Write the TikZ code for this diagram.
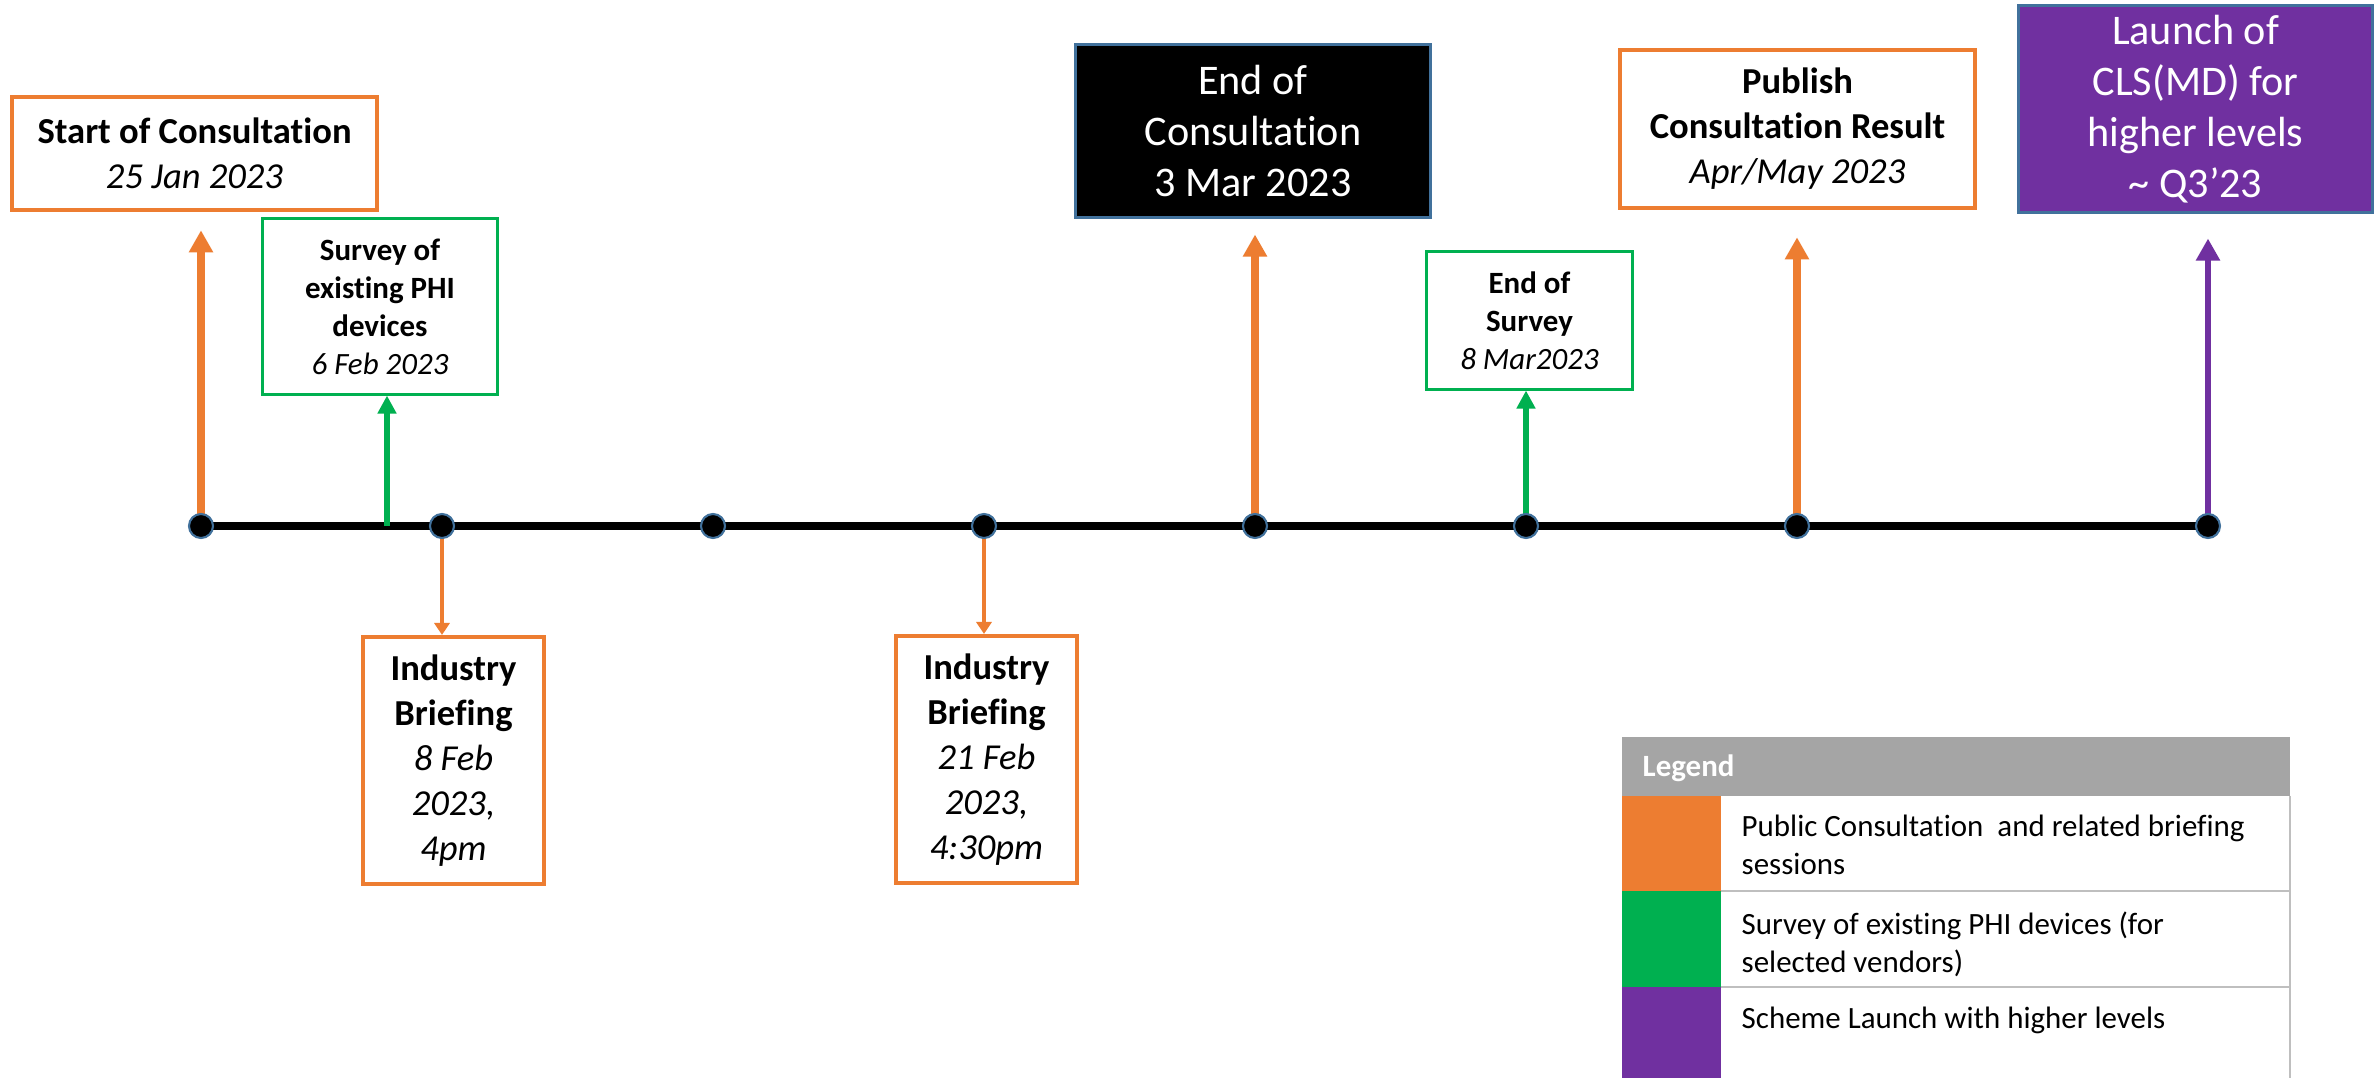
\documentclass[tikz,border=0pt]{standalone}
\usepackage{fontspec}
\setmainfont[Ligatures=NoCommon]{Carlito}
\usetikzlibrary{
	arrows.meta
}

\definecolor{pcorange}{HTML}{ED7D31}
\definecolor{pcgreen}{HTML}{00B050}
\definecolor{pcpurple}{HTML}{7030A0}
\definecolor{pcborder}{HTML}{41719C}
\definecolor{pchead}{HTML}{A5A5A5}
\definecolor{pcgrid}{HTML}{BFBFBF}

\begin{document}
\begin{tikzpicture}[
	x=0.01cm, y=-0.01cm,
	>={Triangle[length=0.22cm, width=0.23cm]},
	evbox/.style={draw, align=center, inner sep=0pt, fill=white, text=black},
	orangebox/.style={evbox, draw=pcorange, line width=1.3pt},
	greenbox/.style={evbox, draw=pcgreen, line width=0.85pt},
	darkbox/.style={evbox, draw=pcborder, line width=0.85pt, fill=black, text=white},
	launchbox/.style={evbox, draw=pcborder, line width=0.85pt, fill=pcpurple, text=white},
	bigfont/.style={font=\fontsize{12pt}{14.5pt}\selectfont},
	midfont/.style={font=\fontsize{10.4pt}{12.8pt}\selectfont},
	smallfont/.style={font=\fontsize{8.8pt}{10.8pt}\selectfont},
	dot/.style={circle, fill=black, draw=pcborder, line width=0.6pt, minimum size=0.24cm, inner sep=0pt},
	timeline/.style={line width=2.3pt, black},
	uparrow/.style={->, line width=2.1pt},
	greenarrow/.style={->, pcgreen, line width=1.5pt, >={Triangle[length=0.18cm, width=0.18cm]}},
	downarrow/.style={->, pcorange, line width=1pt, >={Triangle[length=0.12cm, width=0.15cm]}},
	gridline/.style={pcgrid, line width=0.45pt}
]
	\path[fill=white] (0,0) rectangle (2374,1078);

	% events above the line
	\node(start)[orangebox, midfont, minimum width=3.65cm, minimum height=1.13cm] at (194.5,153.5)
		{\textbf{Start of Consultation}\\\textit{25 Jan 2023}};
	\node(survey)[greenbox, smallfont, minimum width=2.34cm, minimum height=1.75cm] at (380,306.5)
		{\textbf{Survey of}\\\textbf{existing PHI}\\\textbf{devices}\\\textit{6 Feb 2023}};
	\node(endcons)[darkbox, bigfont, minimum width=3.54cm, minimum height=1.72cm] at (1253,131)
		{End of\\Consultation\\3 Mar 2023};
	\node(endsurv)[greenbox, smallfont, minimum width=2.05cm, minimum height=1.37cm] at (1529.5,320.5)
		{\textbf{End of}\\\textbf{Survey}\\\textit{8 Mar2023}};
	\node(publish)[orangebox, midfont, minimum width=3.55cm, minimum height=1.58cm] at (1797.5,129)
		{\textbf{Publish}\\\textbf{Consultation Result}\\\textit{Apr/May 2023}};
	\node(launch)[launchbox, bigfont, minimum width=3.53cm, minimum height=2.06cm] at (2195.5,109)
		{Launch of\\CLS(MD) for\\higher levels\\\textasciitilde{} Q3’23};

	% events below the line
	\node(brief1)[orangebox, midfont, line width=1.1pt, minimum width=1.81cm, minimum height=2.47cm] at (453.5,760.5)
		{\textbf{Industry}\\\textbf{Briefing}\\\textit{8 Feb}\\\textit{2023,}\\\textit{4pm}};
	\node(brief2)[orangebox, midfont, line width=1.1pt, minimum width=1.81cm, minimum height=2.47cm] at (986.5,759.5)
		{\textbf{Industry}\\\textbf{Briefing}\\\textit{21 Feb}\\\textit{2023,}\\\textit{4:30pm}};

	\foreach \x [count=\i] in {201,442,713,984,1255,1526,1797,2208}
		\coordinate (d\i) at (\x,526);
	\coordinate (s1) at (387,526);

	\draw[timeline] (d1) -- (d8);

	\draw[uparrow, pcorange, shorten >=0.18cm] (d1) -- (d1 |- start.south);
	\draw[greenarrow] (s1) -- (s1 |- survey.south);
	\draw[downarrow] (d2) -- (d2 |- brief1.north);
	\draw[downarrow] (d4) -- (d4 |- brief2.north);
	\draw[uparrow, pcorange, shorten >=0.16cm] (d5) -- (d5 |- endcons.south);
	\draw[greenarrow] (d6) -- (d6 |- endsurv.south);
	\draw[uparrow, pcorange, shorten >=0.27cm] (d7) -- (d7 |- publish.south);
	\draw[uparrow, pcpurple, line width=1.9pt, shorten >=0.25cm] (d8) -- (d8 |- launch.south);

	\foreach \i in {1,...,8}
		\node[dot] at (d\i) {};

	% legend
	\fill[pchead] (1622,737) rectangle (2290,796);
	\node[anchor=base west, inner sep=0, smallfont, text=white] at (1642,777) {\textbf{Legend}};
	\fill[pcorange] (1622,796) rectangle (1721,891);
	\fill[pcgreen] (1622,891) rectangle (1721,987);
	\fill[pcpurple] (1622,987) rectangle (1721,1078);
	\draw[gridline] (1721,891) -- (2290,891);
	\draw[gridline] (1721,987) -- (2290,987);
	\draw[gridline] (2290,796) -- (2290,1078);
	\node[anchor=north west, inner sep=0, smallfont, align=left] at (1741,814)
		{Public Consultation\ \ and related briefing\\sessions};
	\node[anchor=north west, inner sep=0, smallfont, align=left] at (1741,911)
		{Survey of existing PHI devices (for\\selected vendors)};
	\node[anchor=north west, inner sep=0, smallfont, align=left] at (1741,1006)
		{Scheme Launch with higher levels};
\end{tikzpicture}
\end{document}
